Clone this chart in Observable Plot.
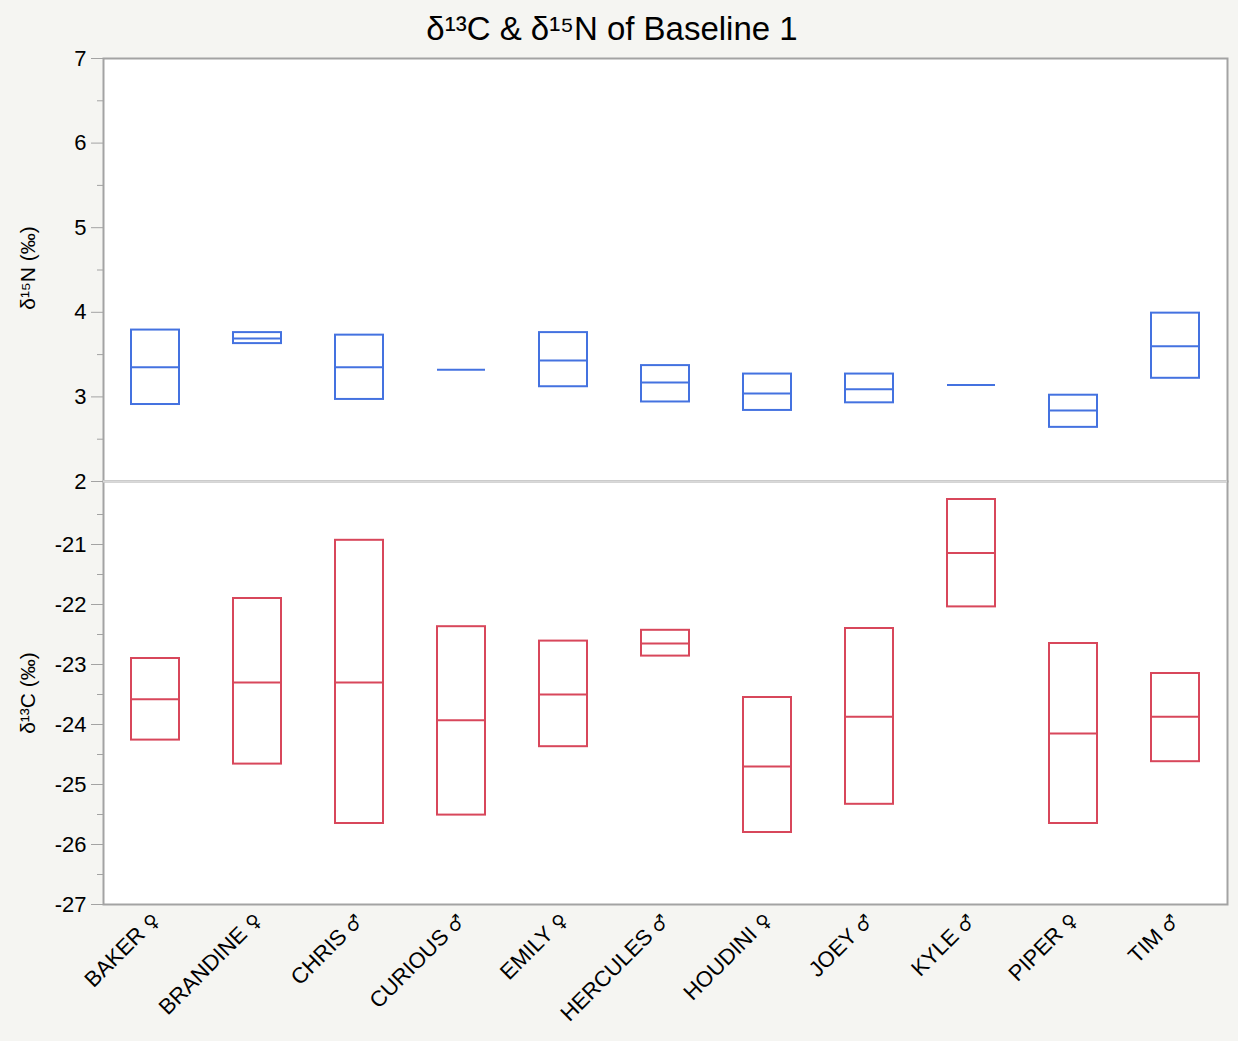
<!DOCTYPE html>
<html>
<head>
<meta charset="utf-8">
<script src="https://cdn.jsdelivr.net/npm/d3@7"></script>
<script src="https://cdn.jsdelivr.net/npm/@observablehq/plot@0.6"></script>
<style>
  @font-face { font-family: "SexSym"; src: local("DejaVu Sans"), local("DejaVuSans"); unicode-range: U+2640, U+2642, U+FE0E; size-adjust: 85%; }
  html, body { margin: 0; padding: 0; background: #f5f5f2; }
  #wrap { position: relative; width: 1238px; height: 1041px; background: #f5f5f2; font-family: "Liberation Sans", Arial, sans-serif; }
  #title { position: absolute; top: 10px; left: 0; width: 1224px; text-align: center; font-size: 33px; line-height: 38px; color: #000; }
  #top { position: absolute; top: 45px; left: 0; }
  #bottom { position: absolute; top: 481px; left: 0; }
  .ylab { position: absolute; left: 28px; font-size: 21px; white-space: nowrap; color: #000; transform: translate(-50%, -50%) rotate(-90deg); }
</style>
</head>
<body>
<div id="wrap">
  <div id="title">δ¹³C &amp; δ¹⁵N of Baseline 1</div>
  <div id="top"></div>
  <div id="bottom"></div>
  <div class="ylab" style="top: 268px;">δ¹⁵N (‰)</div>
  <div class="ylab" style="top: 693px;">δ¹³C (‰)</div>
</div>
<script>
// ---- data ----
const VS = "\uFE0E"; // text presentation for the sex symbols
const names = ["BAKER ♀", "BRANDINE ♀", "CHRIS ♂", "CURIOUS ♂", "EMILY ♀", "HERCULES ♂", "HOUDINI ♀", "JOEY ♂", "KYLE ♂", "PIPER ♀", "TIM ♂"].map(s => s + VS);
const n15Low  = [2.91, 3.63, 2.97, 3.32, 3.12, 2.94, 2.84, 2.93, 3.14, 2.64, 3.22];
const n15Mid  = [3.35, 3.69, 3.35, 3.32, 3.43, 3.17, 3.04, 3.09, 3.14, 2.84, 3.60];
const n15High = [3.79, 3.76, 3.73, 3.32, 3.76, 3.37, 3.27, 3.27, 3.14, 3.02, 3.99];
const c13Low  = [-24.26, -24.66, -25.65, -25.51, -24.37, -22.86, -25.80, -25.33, -22.04, -25.65, -24.62];
const c13Mid  = [-23.58, -23.30, -23.30, -23.93, -23.50, -22.65, -24.70, -23.87, -21.14, -24.15, -23.87];
const c13High = [-22.90, -21.90, -20.93, -22.37, -22.61, -22.43, -23.55, -22.40, -20.25, -22.65, -23.15];
const n15Ticks = [2, 3, 4, 5, 6, 7];
const n15Minor = [2.5, 3.5, 4.5, 5.5, 6.5];
const c13Ticks = [-27, -26, -25, -24, -23, -22, -21];
const c13Minor = [-26.5, -25.5, -24.5, -23.5, -22.5, -21.5, -20.5];

const n15 = names.map((n, i) => ({name: n, lo: n15Low[i], mid: n15Mid[i], hi: n15High[i]}));
const c13 = names.map((n, i) => ({name: n, lo: c13Low[i], mid: c13Mid[i], hi: c13High[i]}));

const BLUE = "#4472e0";
const RED = "#d8475b";
const GRID = "#a3a3a3";
const DIV = "#d9d9d9";
const FONT = "SexSym, 'Liberation Sans', Arial, 'DejaVu Sans', sans-serif";
const INSET = 27;
const fmt = d => String(d);

const common = {
  width: 1238,
  marginLeft: 103,
  marginRight: 11,
  style: {background: "transparent", fontFamily: FONT, color: "#000", overflow: "visible"}
};

const topPlot = Plot.plot({
  ...common,
  height: 436,
  marginTop: 13,
  marginBottom: 0,
  x: {domain: names, padding: 0, axis: null},
  y: {domain: [2, 7], axis: null},
  marks: [
    Plot.frame({fill: "white", stroke: null}),
    Plot.axisY({ticks: n15Minor, tickSize: 6, tickFormat: () => "", stroke: GRID, label: null}),
    Plot.axisY({ticks: n15Ticks, tickSize: 12, tickPadding: 5, fontSize: 22, tickFormat: fmt, stroke: GRID, fill: "#000", label: null}),
    Plot.barY(n15, {x: "name", y1: "lo", y2: "hi", fill: "none", stroke: BLUE, strokeWidth: 2, insetLeft: INSET, insetRight: INSET}),
    Plot.tickY(n15, {x: "name", y: "mid", stroke: BLUE, strokeWidth: 2, insetLeft: INSET, insetRight: INSET}),
    Plot.frame({stroke: GRID, strokeWidth: 2}),
    Plot.ruleY([2], {stroke: DIV, strokeWidth: 2})
  ]
});
document.getElementById("top").appendChild(topPlot);

const bottomPlot = Plot.plot({
  ...common,
  height: 560,
  marginTop: 0,
  marginBottom: 137,
  x: {domain: names, padding: 0},
  y: {domain: [-27, -19.95], axis: null},
  marks: [
    Plot.frame({fill: "white", stroke: null}),
    Plot.axisY({ticks: c13Minor, tickSize: 6, tickFormat: () => "", stroke: GRID, label: null}),
    Plot.axisY({ticks: c13Ticks, tickSize: 12, tickPadding: 5, fontSize: 22, tickFormat: fmt, stroke: GRID, fill: "#000", label: null}),
    Plot.axisX({tickRotate: -45, tickSize: 0, tickPadding: 12, fontSize: 22, fill: "#000", label: null}),
    Plot.barY(c13, {x: "name", y1: "lo", y2: "hi", fill: "none", stroke: RED, strokeWidth: 2, insetLeft: INSET, insetRight: INSET}),
    Plot.tickY(c13, {x: "name", y: "mid", stroke: RED, strokeWidth: 2, insetLeft: INSET, insetRight: INSET}),
    Plot.frame({stroke: GRID, strokeWidth: 2}),
    Plot.ruleY([-19.95], {stroke: DIV, strokeWidth: 2})
  ]
});
document.getElementById("bottom").appendChild(bottomPlot);
</script>
</body>
</html>
